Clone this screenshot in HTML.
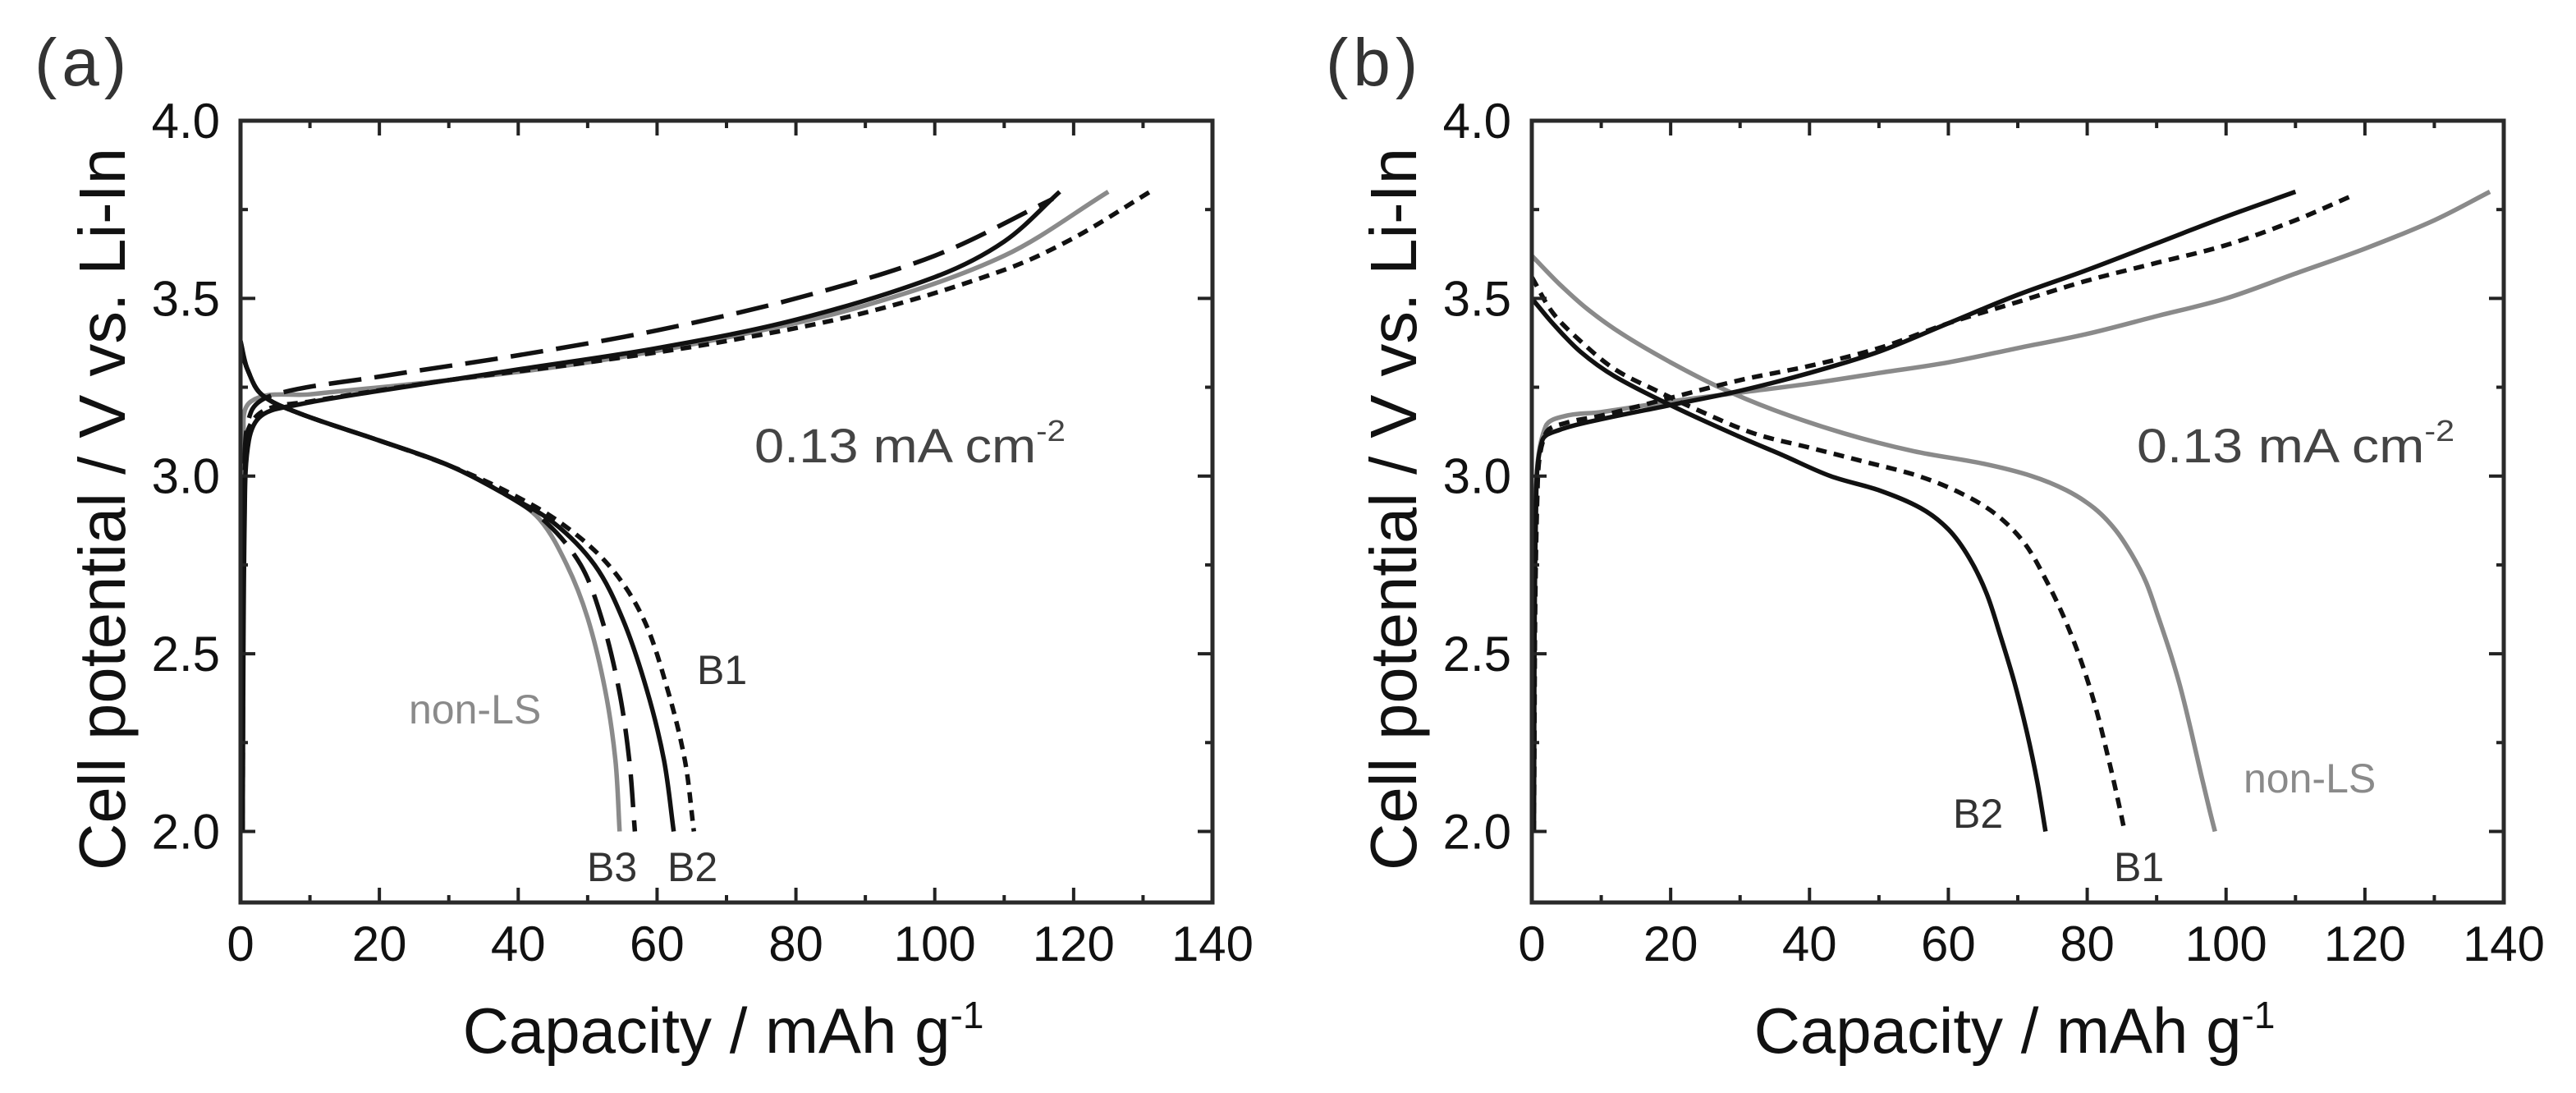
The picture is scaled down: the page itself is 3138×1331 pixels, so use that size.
<!DOCTYPE html>
<html><head><meta charset="utf-8">
<style>
html,body{margin:0;padding:0;background:#fff;}
svg{display:block;font-family:"Liberation Sans",Arial,sans-serif;}
</style></head>
<body>
<svg id="fig" width="3138" height="1331" viewBox="0 0 3138 1331" xmlns="http://www.w3.org/2000/svg">
<rect width="3138" height="1331" fill="#fff"/>
<text x="42" y="104" font-size="82" fill="#333" letter-spacing="6">(a)</text>
<text x="1615" y="104" font-size="82" fill="#333" letter-spacing="6">(b)</text>
</svg>
<script>
// ---- data ----
const xTickValues = [0,20,40,60,80,100,120,140];
const yTickValues = [2.0,2.5,3.0,3.5,4.0];
const yTickLabels = ["2.0","2.5","3.0","3.5","4.0"];

// Panel (a) charge curves
const aChargeB2 = [[0.3,2.0],[0.6,2.9],[1.2,3.1],[3,3.17],[8,3.2],[20,3.24],[40,3.3],[60,3.36],[80,3.44],[100,3.56],[110,3.66],[118,3.8]];
const aChargeB3 = [[0.3,2.0],[0.6,3.0],[1.5,3.18],[5,3.23],[20,3.28],[40,3.34],[60,3.41],[80,3.5],[100,3.62],[117,3.78]];
const aChargeB1 = [[0.3,2.0],[0.8,3.1],[3,3.18],[10,3.21],[30,3.27],[50,3.32],[70,3.38],[90,3.46],[110,3.58],[120,3.67],[131,3.8]];
const aChargeNonLS = [[0.3,2.0],[0.5,3.1],[1.5,3.21],[10,3.23],[30,3.27],[50,3.32],[70,3.39],[90,3.48],[110,3.62],[125,3.8]];
// Panel (a) discharge curves
const aDischargeNonLS = [[0,3.38],[1,3.3],[3,3.23],[8,3.18],[20,3.1],[30,3.03],[38,2.95],[43,2.88],[47,2.75],[50,2.6],[52.5,2.4],[54,2.2],[54.6,2.0]];
const aDischargeB3 = [[0,3.38],[1,3.3],[3,3.23],[8,3.18],[20,3.1],[30,3.03],[38,2.95],[44,2.87],[49,2.75],[52,2.6],[54.5,2.4],[56,2.2],[56.8,2.0]];
const aDischargeB2 = [[0,3.36],[1,3.3],[3,3.23],[8,3.18],[20,3.1],[30,3.03],[38,2.95],[45,2.87],[51,2.75],[55,2.6],[58.5,2.4],[61,2.2],[62.4,2.0]];
const aDischargeB1 = [[0,3.36],[1,3.3],[3,3.23],[8,3.18],[20,3.1],[30,3.03],[38,2.96],[46,2.87],[53,2.75],[58,2.6],[61.5,2.4],[64,2.2],[65.3,2.0]];

// Panel (b) charge curves
const bChargeB2 = [[0.3,2.0],[0.6,2.9],[1.5,3.1],[4,3.13],[10,3.16],[20,3.2],[30,3.24],[40,3.29],[50,3.35],[60,3.43],[70,3.51],[80,3.58],[90,3.655],[100,3.73],[110,3.8]];
const bChargeB1 = [[0.3,2.0],[0.8,2.95],[2,3.12],[5,3.15],[10,3.17],[20,3.22],[30,3.27],[40,3.31],[50,3.36],[60,3.43],[70,3.49],[80,3.55],[90,3.6],[100,3.65],[110,3.72],[117.7,3.785]];
const bChargeNonLS = [[0.3,2.0],[0.6,2.95],[2,3.14],[5,3.17],[10,3.18],[20,3.21],[30,3.235],[40,3.26],[50,3.29],[60,3.32],[70,3.36],[80,3.40],[90,3.45],[100,3.5],[110,3.57],[120,3.64],[130,3.72],[138,3.8]];
// Panel (b) discharge curves
const bDischargeB2 = [[0,3.5],[3,3.43],[7,3.35],[12,3.28],[21,3.19],[30,3.11],[36,3.06],[43,3.0],[50,2.96],[56,2.91],[60,2.85],[63,2.77],[65.5,2.67],[67.5,2.55],[69.5,2.42],[71.3,2.28],[72.8,2.14],[74,2.0]];
const bDischargeB1 = [[0,3.56],[3,3.46],[7,3.38],[12,3.3],[18,3.24],[24,3.185],[32,3.12],[40,3.08],[48,3.04],[55.7,3.0],[62,2.95],[67,2.89],[71,2.81],[74,2.71],[76.7,2.6],[79.1,2.48],[81.2,2.35],[83,2.21],[84.3,2.1],[85.4,2.0]];
const bDischargeNonLS = [[0,3.62],[4,3.54],[8,3.47],[13,3.4],[20,3.32],[27,3.25],[35,3.185],[45,3.12],[55,3.07],[65,3.035],[72,3.0],[77,2.96],[81,2.91],[84,2.85],[86.4,2.78],[88.5,2.7],[90.3,2.6],[92,2.5],[93.5,2.4],[95,2.28],[96.4,2.16],[97.5,2.07],[98.4,2.0]];

const NS = "http://www.w3.org/2000/svg";
const svg = document.getElementById("fig");
function mk(tag, attrs, parent){
  const e = document.createElementNS(NS, tag);
  for (const k in attrs) e.setAttribute(k, attrs[k]);
  (parent||svg).appendChild(e);
  return e;
}
const styles = {
  solid:{stroke:"#111", dash:""},
  longdash:{stroke:"#111", dash:"40 16"},
  dot:{stroke:"#111", dash:"13 9"},
  gray:{stroke:"#8a8a8a", dash:""}
};
function smoothPath(pts, sx, sy){
  const p = pts.map(d=>[sx(d[0]), sy(d[1])]);
  let d = "M"+p[0][0].toFixed(1)+","+p[0][1].toFixed(1);
  for (let i=0;i<p.length-1;i++){
    const p0=p[i-1]||p[i], p1=p[i], p2=p[i+1], p3=p[i+2]||p2;
    const seg=Math.hypot(p2[0]-p1[0],p2[1]-p1[1]);
    const l1=Math.hypot(p2[0]-p0[0],p2[1]-p0[1])||1;
    const l2=Math.hypot(p3[0]-p1[0],p3[1]-p1[1])||1;
    const t1=seg/(3*l1), t2=seg/(3*l2);
    const c1=[p1[0]+(p2[0]-p0[0])*t1, p1[1]+(p2[1]-p0[1])*t1];
    const c2=[p2[0]-(p3[0]-p1[0])*t2, p2[1]-(p3[1]-p1[1])*t2];
    d+=" C"+c1[0].toFixed(1)+","+c1[1].toFixed(1)+" "+c2[0].toFixed(1)+","+c2[1].toFixed(1)+" "+p2[0].toFixed(1)+","+p2[1].toFixed(1);
  }
  return d;
}
function drawPanel(id, left, right, top, bottom, series, labelCx){
  const xmin=0,xmax=140,ymin=1.8,ymax=4.0;
  const sx=v=>left+(v-xmin)/(xmax-xmin)*(right-left);
  const sy=v=>bottom-(v-ymin)/(ymax-ymin)*(bottom-top);
  const g = mk("g",{});
  
  
  const cp = mk("clipPath",{id:id+"clip"}, g);
  mk("rect",{x:left,y:top,width:right-left,height:bottom-top},cp);
  const cg = mk("g",{"clip-path":"url(#"+id+"clip)"}, g);
  series.forEach(s=>{
    const st=styles[s.style];
    const path = mk("path",{d:smoothPath(s.data,sx,sy),fill:"none",stroke:st.stroke,"stroke-width":5.5,"stroke-dasharray":st.dash,"stroke-linejoin":"round"},cg);
    
    
  });
  const tg = mk("g",{stroke:"#222","stroke-width":4}, g);
  for (let v=0; v<=140; v+=10){
    const L = (v%20===0)?18:9, x=sx(v);
    mk("line",{x1:x,y1:bottom,x2:x,y2:bottom-L},tg);
    mk("line",{x1:x,y1:top,x2:x,y2:top+L},tg);
  }
  for (let v=2.0; v<=4.001; v+=0.25){
    const L = (Math.abs(v*2-Math.round(v*2))<0.01)?18:9, y=sy(v);
    mk("line",{x1:left,y1:y,x2:left+L,y2:y},tg);
    mk("line",{x1:right,y1:y,x2:right-L,y2:y},tg);
  }
  const frame = mk("rect",{x:left,y:top,width:right-left,height:bottom-top,fill:"none",stroke:"#2a2a2a","stroke-width":5}, g);
  
  
  xTickValues.forEach(v=>{
    const t = mk("text",{x:sx(v),y:1170,"font-size":60,"text-anchor":"middle",fill:"#111"}, g);
    t.textContent = String(v);
    
    
  });
  yTickValues.forEach((v,i)=>{
    const t = mk("text",{x:left-25,y:sy(v)+21,"font-size":60,"text-anchor":"end",fill:"#111"}, g);
    t.textContent = yTickLabels[i];
    
    
  });
  const xt = mk("text",{x:(left+right)/2-4,y:1282,"font-size":78,"text-anchor":"middle",fill:"#111"}, g);
  xt.innerHTML = 'Capacity / mAh g<tspan dy="-30" font-size="46">-1</tspan>';
  
  
  const yt = mk("text",{x:0,y:0,"font-size":80,"text-anchor":"middle",fill:"#111",textLength:880,lengthAdjust:"spacingAndGlyphs",transform:"translate("+labelCx+",620) rotate(-90)"}, g);
  yt.textContent = "Cell potential / V vs. Li-In";
  
  
  return {sx,sy,g};
}

drawPanel("panel-a", 293, 1477, 147, 1099, [
  {name:"a-charge-non-ls", style:"gray", data:aChargeNonLS},
  {name:"a-discharge-non-ls", style:"gray", data:aDischargeNonLS},
  {name:"a-charge-b1", style:"dot", data:aChargeB1},
  {name:"a-discharge-b1", style:"dot", data:aDischargeB1},
  {name:"a-charge-b3", style:"longdash", data:aChargeB3},
  {name:"a-discharge-b3", style:"longdash", data:aDischargeB3},
  {name:"a-charge-b2", style:"solid", data:aChargeB2},
  {name:"a-discharge-b2", style:"solid", data:aDischargeB2}
], 152);
drawPanel("panel-b", 1866, 3050, 147, 1099, [
  {name:"b-charge-non-ls", style:"gray", data:bChargeNonLS},
  {name:"b-discharge-non-ls", style:"gray", data:bDischargeNonLS},
  {name:"b-charge-b1", style:"dot", data:bChargeB1},
  {name:"b-discharge-b1", style:"dot", data:bDischargeB1},
  {name:"b-charge-b2", style:"solid", data:bChargeB2},
  {name:"b-discharge-b2", style:"solid", data:bDischargeB2}
], 1725);

function label(txt, x, y, size, color, name){
  const t = mk("text",{x:x,y:y,"font-size":size,fill:color});
  t.textContent = txt;
  
  
  return t;
}
function rate(x,y,name,len){
  const t = mk("text",{x:x,y:y,"font-size":58,fill:"#444",textLength:len,lengthAdjust:"spacingAndGlyphs"});
  t.innerHTML = '0.13 mA cm<tspan dy="-26" font-size="36">-2</tspan>';
  
  
}
rate(919, 563, "a-current-density-label", 379);
rate(2603, 563, "b-current-density-label", 387);
label("non-LS", 498, 881, 50, "#8a8a8a", "a-non-ls-label");
label("B1", 849, 833, 50, "#333", "a-b1-label");
label("B3", 715, 1073, 50, "#333", "a-b3-label");
label("B2", 813, 1073, 50, "#333", "a-b2-label");
label("B2", 2379, 1008, 50, "#333", "b-b2-label");
label("B1", 2575, 1073, 50, "#333", "b-b1-label");
label("non-LS", 2733, 965, 50, "#8a8a8a", "b-non-ls-label");
</script>
</body></html>
